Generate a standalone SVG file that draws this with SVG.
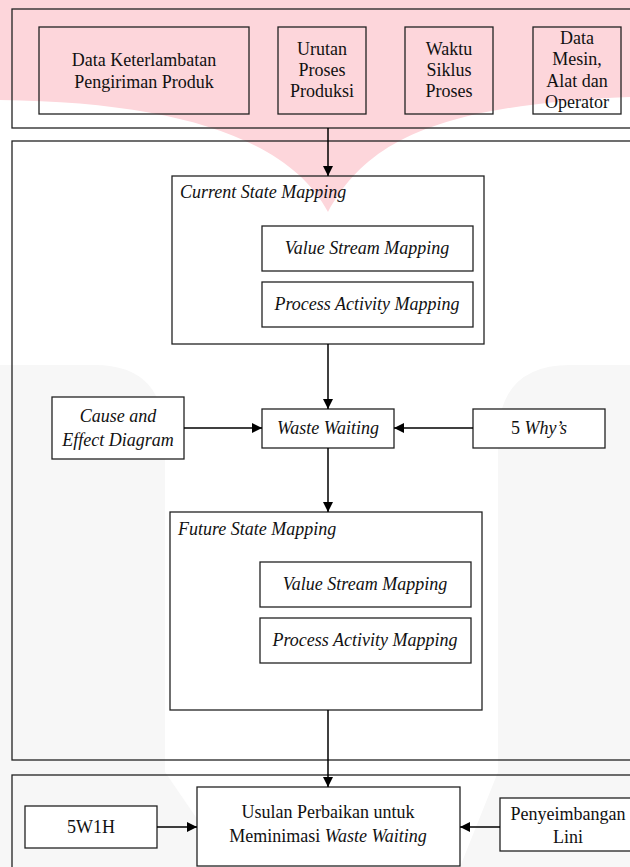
<svg xmlns="http://www.w3.org/2000/svg" width="630" height="867" viewBox="0 0 630 867">
<style>
.box{fill:none;stroke:#222;stroke-width:1.3}
.wbox{fill:#fff;stroke:#222;stroke-width:1.3}
.t{font-family:"Liberation Serif","Times New Roman",serif;font-size:18px;fill:#111;text-anchor:middle}
.l{text-anchor:start}
.i{font-style:italic}
.c{stroke:#000;stroke-width:1.5;fill:none;marker-end:url(#ah)}
</style>
<defs>
<marker id="ah" markerUnits="userSpaceOnUse" markerWidth="10" markerHeight="10" refX="10" refY="5" orient="auto">
<path d="M0,0 L10,5 L0,10 z" fill="#000"/>
</marker>
</defs>
<rect width="630" height="867" fill="#fff"/>
<g id="watermark">
<path d="M0,0 H630 V97 C430,105 365,145 328,212 C290,140 180,102 0,100 Z" fill="#fdd6db"/>
<path d="M0,365 H95 Q165,365 165,440 V772 L230,867 H0 Z" fill="#f7f7f7"/>
<path d="M630,365 H570 Q498,365 498,440 V772 L460,867 H630 Z" fill="#f7f7f7"/>
</g>
<g id="panel-input"><rect class="box" x="12" y="9" width="630" height="119"/></g>
<g id="panel-analysis"><rect class="box" x="12" y="141" width="630" height="619"/></g>
<g id="panel-proposal"><rect class="box" x="12" y="775" width="630" height="100"/></g>
<g id="n-data-keterlambatan">
<rect class="box" x="39" y="27" width="210" height="87"/>
<text class="t" x="144" y="66">Data Keterlambatan</text>
<text class="t" x="144" y="88">Pengiriman Produk</text>
</g>
<g id="n-urutan">
<rect class="box" x="278" y="27" width="88" height="87"/>
<text class="t" x="322" y="55">Urutan</text>
<text class="t" x="322" y="76">Proses</text>
<text class="t" x="322" y="97">Produksi</text>
</g>
<g id="n-waktu">
<rect class="box" x="405" y="27" width="88" height="87"/>
<text class="t" x="449" y="55">Waktu</text>
<text class="t" x="449" y="76">Siklus</text>
<text class="t" x="449" y="97">Proses</text>
</g>
<g id="n-data-mesin">
<rect class="box" x="533" y="27" width="88" height="87"/>
<text class="t" x="577" y="44">Data</text>
<text class="t" x="577" y="65">Mesin,</text>
<text class="t" x="577" y="87">Alat dan</text>
<text class="t" x="577" y="108">Operator</text>
</g>
<g id="n-current-state">
<rect class="box" x="172" y="176" width="312" height="168"/>
<text class="t l i" x="180" y="198">Current State Mapping</text>
</g>
<g id="n-vsm-current">
<rect class="wbox" x="262" y="226" width="211" height="45"/>
<text class="t i" x="367" y="254">Value Stream Mapping</text>
</g>
<g id="n-pam-current">
<rect class="wbox" x="262" y="282" width="211" height="45"/>
<text class="t i" x="367" y="310">Process Activity Mapping</text>
</g>
<g id="n-cause-effect">
<rect class="wbox" x="52" y="397" width="132" height="62"/>
<text class="t i" x="118" y="422">Cause and</text>
<text class="t i" x="118" y="446">Effect Diagram</text>
</g>
<g id="n-waste-waiting">
<rect class="wbox" x="262" y="409" width="132" height="39"/>
<text class="t i" x="328" y="434">Waste Waiting</text>
</g>
<g id="n-5why">
<rect class="wbox" x="473" y="409" width="132" height="39"/>
<text class="t" x="539" y="434">5 <tspan class="i">Why’s</tspan></text>
</g>
<g id="n-future-state">
<rect class="wbox" x="170" y="512" width="312" height="198"/>
<text class="t l i" x="178" y="535">Future State Mapping</text>
</g>
<g id="n-vsm-future">
<rect class="wbox" x="260" y="562" width="211" height="45"/>
<text class="t i" x="365" y="590">Value Stream Mapping</text>
</g>
<g id="n-pam-future">
<rect class="wbox" x="260" y="618" width="211" height="45"/>
<text class="t i" x="365" y="646">Process Activity Mapping</text>
</g>
<g id="n-5w1h">
<rect class="wbox" x="25" y="806" width="132" height="42"/>
<text class="t" x="91" y="833">5W1H</text>
</g>
<g id="n-usulan">
<rect class="wbox" x="197" y="787" width="263" height="79"/>
<text class="t" x="328" y="818">Usulan Perbaikan untuk</text>
<text class="t" x="328" y="842">Meminimasi <tspan class="i">Waste Waiting</tspan></text>
</g>
<g id="n-penyeimbangan">
<rect class="wbox" x="500" y="798" width="140" height="53"/>
<text class="t" x="568" y="820">Penyeimbangan</text>
<text class="t" x="568" y="843">Lini</text>
</g>
<g id="connectors">
<line class="c" x1="328" y1="128" x2="328" y2="176"/>
<line class="c" x1="328" y1="344" x2="328" y2="409"/>
<line class="c" x1="184" y1="428" x2="262" y2="428"/>
<line class="c" x1="473" y1="428" x2="394" y2="428"/>
<line class="c" x1="328" y1="448" x2="328" y2="512"/>
<line class="c" x1="328" y1="710" x2="328" y2="787"/>
<line class="c" x1="157" y1="827" x2="197" y2="827"/>
<line class="c" x1="500" y1="827" x2="460" y2="827"/>
</g>
</svg>
